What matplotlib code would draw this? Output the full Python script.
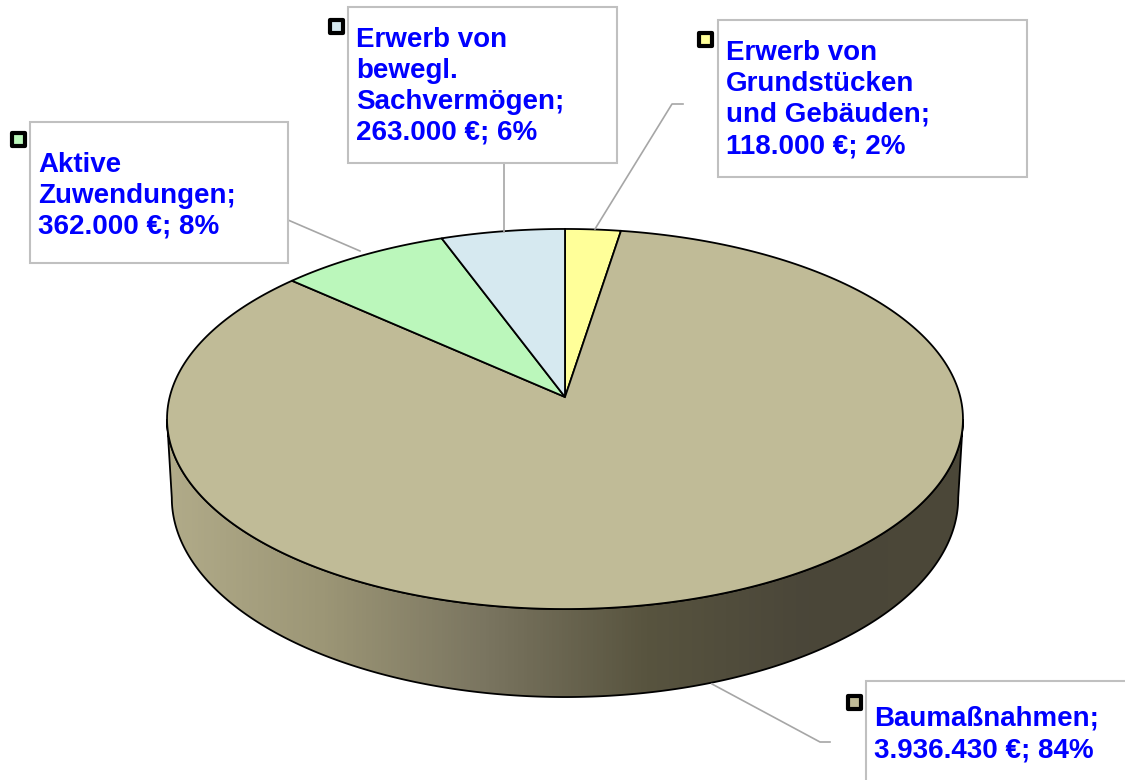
import numpy as np
import matplotlib.pyplot as plt
from matplotlib.patches import Polygon, Rectangle
from matplotlib.colors import LinearSegmentedColormap

plt.rcParams['font.family'] = ['Liberation Sans', 'DejaVu Sans']

# slices in drawing order, clockwise from 12 o'clock
labels = ["Erwerb von\nGrundstücken\nund Gebäuden;\n118.000 €; 2%",
          "Baumaßnahmen;\n3.936.430 €; 84%",
          "Aktive\nZuwendungen;\n362.000 €; 8%",
          "Erwerb von\nbewegl.\nSachvermögen;\n263.000 €; 6%"]
values = [118000, 3936430, 362000, 263000]
colors = ["#FFFF99", "#C0BB97", "#BBF7BB", "#D6E9F0"]

# pixel layout of the 3d pie (simple perspective: far side is squeezed)
cx, cy = 565, 397          # projected pie centre
A, B, k = 395.3, 187.5, 0.1158
D = 77.8                   # pie height
shrink = 0.988             # bottom rim a bit narrower


def rim(theta_deg, bottom=False):
    t = np.radians(theta_deg)
    X, Z = np.cos(t), np.sin(t)
    w = 1 + k * Z
    x = cx + A * X / w
    y = cy - B * Z / w
    if bottom:
        x = cx + (x - cx) * shrink
        y = y + D / w
    return np.column_stack([x, y])


fig = plt.figure(figsize=(11.25, 7.8), dpi=100)
ax = fig.add_axes([0, 0, 1, 1])
ax.set_xlim(0, 1125); ax.set_ylim(780, 0)
ax.axis("off")

# side wall with horizontal shading
t0 = 180 + np.degrees(np.arcsin(k))
t1 = 360 - np.degrees(np.arcsin(k))
top_arc = rim(np.linspace(t0, t1, 300))
bot_arc = rim(np.linspace(t1, t0, 300), bottom=True)
side = Polygon(np.vstack([top_arc, bot_arc]), closed=True, facecolor="none",
               edgecolor="black", linewidth=1.3, zorder=2)
ax.add_patch(side)
shade = LinearSegmentedColormap.from_list(
    "side", ["#B2AC8A", "#9C9676", "#7A7560", "#58543F", "#4A4639", "#4C4838"])
grad = np.linspace(0, 1, 256).reshape(1, -1)
im = ax.imshow(grad, cmap=shade, extent=(160, 970, 720, 380),
               aspect="auto", zorder=1)
im.set_clip_path(side)

# top face wedges
total = sum(values)
cum = np.concatenate([[0], np.cumsum(values)]) / total
for i, col in enumerate(colors):
    a1 = 90 - 360 * cum[i]
    a2 = 90 - 360 * cum[i + 1]
    pts = np.vstack([[cx, cy], rim(np.linspace(a1, a2, 300))])
    ax.add_patch(Polygon(pts, closed=True, facecolor=col, edgecolor="black",
                         linewidth=1.3, zorder=3))

# leader lines
gray = "#A6A6A6"
ax.plot([288, 360], [220, 251], color=gray, lw=1.2, zorder=4)
ax.plot([504, 504], [163, 232], color=gray, lw=1.2, zorder=4)
ax.plot([683, 672, 595], [104, 104, 229], color=gray, lw=1.2, zorder=4)
ax.plot([712, 820, 830], [684, 742, 742], color=gray, lw=1.2, zorder=4)

# label boxes: (box x, y, w, h), text y, key position
box_rects = [(718, 20, 309, 157), (866, 681, 270, 110),
             (30, 122, 258, 141), (348, 7, 269, 156)]
text_y = [40, 706, 152, 27]
key_pos = [(697, 31), (846, 694), (10, 131), (328, 18)]
for (bx, by, bw, bh), ty, (kx, ky), lab, col in zip(
        box_rects, text_y, key_pos, labels, colors):
    ax.add_patch(Rectangle((bx, by), bw, bh, facecolor="white",
                           edgecolor="#C0C0C0", linewidth=1.5, zorder=5))
    ax.text(bx + 8, ty, lab, color="#0000FF", fontsize=20, fontweight="bold",
            va="top", ha="left", linespacing=1.25, zorder=6)
    ax.add_patch(Rectangle((kx + 2, ky + 2), 13, 13, facecolor=col,
                           edgecolor="black", linewidth=3, joinstyle="round",
                           zorder=6))

fig.savefig("out.png", dpi=100)
